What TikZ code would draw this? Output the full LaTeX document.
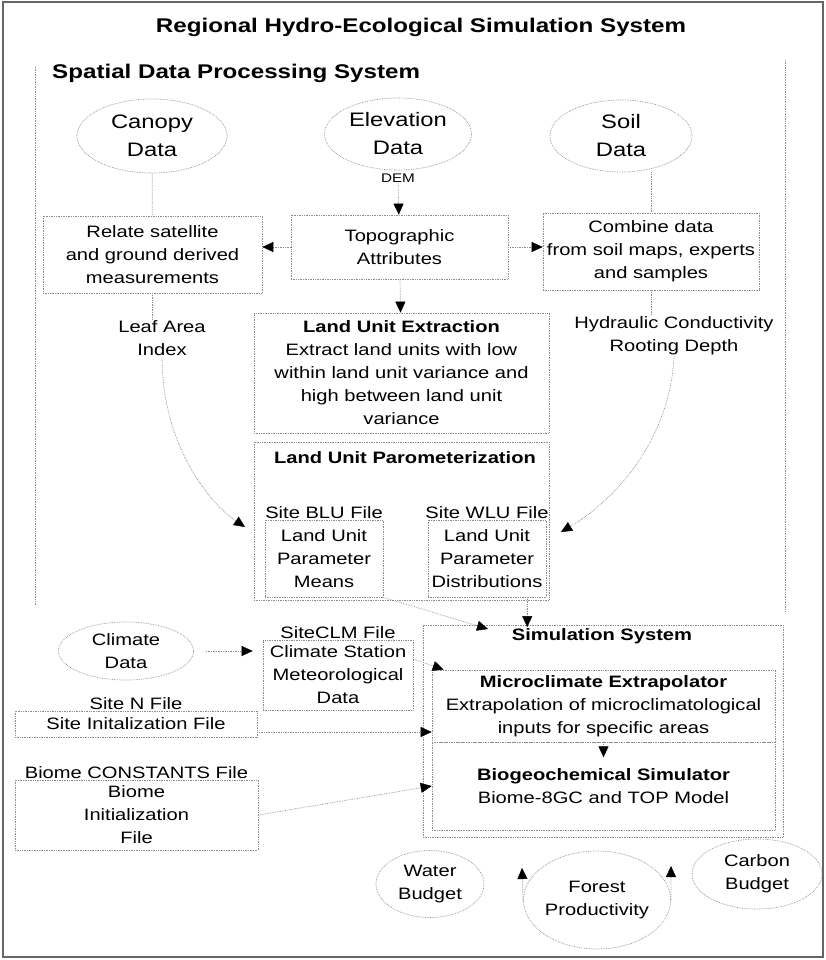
\documentclass[tikz,border=0pt]{standalone}
\usepackage{fontspec}
\setmainfont{Liberation Sans}[FakeStretch=1.22]
\usetikzlibrary{positioning}
\usetikzlibrary{shapes.geometric}
\usetikzlibrary{arrows.meta}

\newcommand\txtnorm{\fontsize{16.5}{23}\selectfont}
\newcommand\txtbig{\fontsize{19.5}{28}\selectfont}
\newcommand\txthead{\fontsize{19.8}{24}\selectfont\bfseries}
\newcommand\txtsmall{\fontsize{12.5}{15}\selectfont}

\begin{document}
\begin{tikzpicture}[x = 1pt, y = -1pt,
    frame/.style = {draw = black!60, line width = 1.1pt},
    dotline/.style = {color = black!45, densely dotted, line width = 0.7pt},
    box/.style = {dotline, draw, shape = rectangle, align = center, inner sep = 0pt, text = black, font = \txtnorm},
    blob/.style = {dotline, draw, shape = ellipse, align = center, inner sep = 0pt, text = black, font = \txtnorm},
    txt/.style = {align = center, inner sep = 1pt, font = \txtnorm},
    head/.style = {align = center, inner sep = 1pt, font = \txthead},
    link/.style = {dotline},
    arr/.style = {dotline, -{Triangle[length = 11pt, width = 10pt, color = black, fill = black, line width = 0.4pt]}},
    every label/.style = {font = \txtnorm, text = black, inner sep = 1pt},
    ]
    \useasboundingbox (0,0) rectangle (826,960);
    \draw[frame] (3,2) rectangle (823,957);
    % spatial data processing system
    \draw[dotline] (35,67) -- (35,605);
    \draw[dotline] (785,60) -- (785,612);

    \node[head] (title) at (421,27) {Regional Hydro-Ecological Simulation System};
    \node[head, anchor = west] (spatial) at (51,73) {Spatial Data Processing System};

    \node[blob, font = \txtbig, minimum width = 150pt, minimum height = 74pt] (canopy) at (152,136) {Canopy\\Data};
    \node[blob, font = \txtbig, minimum width = 147pt, minimum height = 72pt] (elev) at (398,134) {Elevation\\Data};
    \node[blob, font = \txtbig, minimum width = 142pt, minimum height = 72pt] (soil) at (621,136) {Soil\\Data};
    \node[txt, font = \txtsmall] (dem) at (398,178) {DEM};

    \node[box, minimum width = 219pt, minimum height = 77pt] (relate) at (152.5,254.5) {Relate satellite\\and ground derived\\measurements};
    \node[box, minimum width = 217pt, minimum height = 64pt] (topo) at (399.5,247) {Topographic\\Attributes};
    \node[box, minimum width = 216pt, minimum height = 77pt] (combine) at (651,251.5) {Combine data\\from soil maps, experts\\and samples};

    \node[txt] (lai) at (162,338) {Leaf Area\\Index};
    \node[box, minimum width = 295pt, minimum height = 120pt] (lue) at (401.5,373) {\textbf{Land Unit Extraction}\\Extract land units with low\\within land unit variance and\\high between land unit\\variance};
    \node[txt] (hydr) at (674,336) {Hydraulic Conductivity\\Rooting Depth};

    % land unit parameterization
    \node[box, minimum width = 295pt, minimum height = 158pt] (lup) at (401.5,521) {};
    \node[txt, font = \txtnorm\bfseries] (luptitle) at (405,458) {Land Unit Parometerization};
    \node[box, minimum width = 118pt, minimum height = 77pt, label = {above:Site BLU File}] (blu) at (324,558.5) {Land Unit\\Parameter\\Means};
    \node[box, minimum width = 118pt, minimum height = 77pt, label = {above:Site WLU File}] (wlu) at (487,558.5) {Land Unit\\Parameter\\Distributions};

    % simulation system
    \node[box, minimum width = 360pt, minimum height = 212pt] (sim) at (603,731) {};
    \node[txt, font = \txtnorm\bfseries] (simtitle) at (602,636) {Simulation System};
    \node[box, minimum width = 343pt, minimum height = 72pt] (micro) at (603.5,706) {\textbf{Microclimate Extrapolator}\\Extrapolation of microclimatological\\inputs for specific areas};
    \node[box, minimum width = 343pt, minimum height = 88pt] (biogeo) at (603.5,786) {\textbf{Biogeochemical Simulator}\\Biome-8GC and TOP Model};

    \node[blob, minimum width = 135pt, minimum height = 58pt] (climate) at (126,651) {Climate\\Data};
    \node[box, minimum width = 150pt, minimum height = 70pt, label = {above:SiteCLM File}] (clm) at (338,675) {Climate Station\\Meteorological\\Data};
    \node[box, minimum width = 242pt, minimum height = 26pt, label = {above:Site N File}] (siten) at (136,724) {Site Initalization File};
    \node[box, minimum width = 243pt, minimum height = 70pt, label = {above:Biome CONSTANTS File}] (biome) at (136.5,815) {Biome\\Initialization\\File};

    \node[blob, minimum width = 108pt, minimum height = 67pt] (water) at (430,884) {Water\\Budget};
    \node[blob, minimum width = 127pt, minimum height = 98pt] (forest) at (597,900) {Forest\\Productivity};
    \node[blob, minimum width = 130pt, minimum height = 70pt] (carbon) at (757,874) {Carbon\\Budget};

    \coordinate (laitip) at (245,527);
    \coordinate (hydtip) at (561,532);
    \coordinate (simtip) at (488,629);
    \coordinate (wtip) at (522,868);
    \coordinate (ctip) at (671,866);

    \path[link] (canopy) edge (relate);
    \path[link] (relate.south) edge (relate.south |- lai.north);
    \path[link] (combine.north |- soil.south) edge (combine.north);
    \path[link] (combine.south) edge (combine.south |- hydr.north);

    \path[arr] (dem) edge (topo);
    \path[arr] (topo.west) edge (topo.west -| relate.east);
    \path[arr] (topo.east) edge (topo.east -| combine.west);
    \path[arr] (topo) edge (lue);
    \draw[arr] (lai.south) .. controls (162,440) and (205,500) .. (laitip);
    \draw[arr] (hydr.south) .. controls (670,440) and (615,500) .. (hydtip);

    \path[arr] (wlu.-44) edge (wlu.-44 |- simtitle.north);
    \path[arr] (blu.south east) edge (simtip);
    \path[arr, shorten <= 12pt, shorten >= 10pt] (climate.east) edge (climate.east -| clm.west);
    \path[arr] (clm.12) edge ([xshift = 12pt]micro.north west);
    \path[arr] ([yshift = -8pt]siten.east) edge ([yshift = -8pt]siten.east -| micro.west);
    \path[arr] (biome.east) edge (biogeo.west);
    \path[arr] (micro.south) edge ([yshift = -15pt]micro.south);
    \path[arr] (forest.west) edge (wtip);
    \path[arr] (forest.east) edge (ctip);
\end{tikzpicture}
\end{document}
